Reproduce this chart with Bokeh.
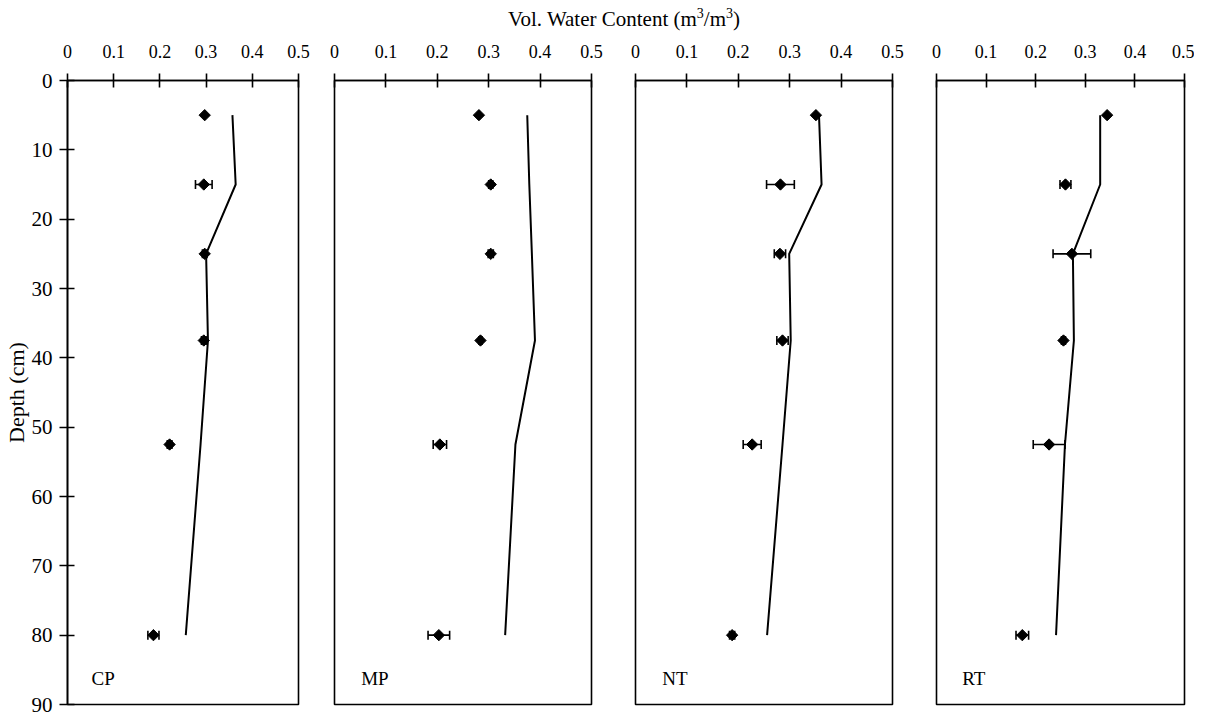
from bokeh.plotting import figure
from bokeh.layouts import row, column
from bokeh.models import (Range1d, FixedTicker, CustomJSTickFormatter, Whisker,
                          TeeHead, ColumnDataSource, Label, Div)
from bokeh.embed import file_html
from bokeh.resources import INLINE
import numpy as np

# ---------------- data ----------------
depth = [5, 15, 25, 37.5, 52.5, 80]
x_ticks = [0, 0.1, 0.2, 0.3, 0.4, 0.5]
y_ticks = [0, 10, 20, 30, 40, 50, 60, 70, 80, 90]
panel_names = ["CP", "MP", "NT", "RT"]

cp_obs = [0.297, 0.295, 0.297, 0.295, 0.221, 0.186]
cp_err = [0.0, 0.018, 0.005, 0.005, 0.005, 0.012]
cp_model = [0.357, 0.364, 0.300, 0.304, 0.288, 0.256]

mp_obs = [0.281, 0.304, 0.304, 0.284, 0.205, 0.203]
mp_err = [0.0, 0.004, 0.005, 0.003, 0.013, 0.021]
mp_model = [0.375, 0.379, 0.384, 0.390, 0.352, 0.332]

nt_obs = [0.351, 0.282, 0.281, 0.286, 0.227, 0.188]
nt_err = [0.0, 0.027, 0.011, 0.011, 0.0175, 0.005]
nt_model = [0.357, 0.362, 0.299, 0.302, 0.286, 0.256]

rt_obs = [0.344, 0.260, 0.273, 0.256, 0.227, 0.173]
rt_err = [0.0, 0.011, 0.038, 0.004, 0.032, 0.0127]
rt_model = [0.330, 0.330, 0.275, 0.277, 0.259, 0.241]

# ---------------- layout ----------------
FONT = "Liberation Serif"
FRAME_H = 624
TOP = 46
BOTTOM = 12
frame_widths = [231, 257, 257, 248]
borders_left = [65, 18, 26, 26]
borders_right = [18, 18, 18, 10]


def make_panel(i, obs, err, model):
    show_y = (i == 0)
    p = figure(frame_width=frame_widths[i], frame_height=FRAME_H,
               x_range=Range1d(0, 0.5), y_range=Range1d(90, 0),
               x_axis_location="above",
               y_axis_location="left" if show_y else None,
               toolbar_location=None, output_backend="svg",
               min_border_left=borders_left[i], min_border_right=borders_right[i],
               min_border_top=TOP, min_border_bottom=BOTTOM)
    p.grid.visible = False
    p.outline_line_color = "black"
    p.outline_line_width = 1.6
    p.outline_line_alpha = 1.0

    xa = p.xaxis[0]
    xa.ticker = FixedTicker(ticks=x_ticks)
    xa.formatter = CustomJSTickFormatter(code="return tick === 0 ? '0' : tick.toFixed(1);")
    xa.major_tick_in = 7
    xa.major_tick_out = 7
    xa.minor_tick_in = 0
    xa.minor_tick_out = 0
    xa.major_tick_line_width = 1.6
    xa.axis_line_width = 1.6
    xa.major_label_text_font = FONT
    xa.major_label_text_font_size = "18px"
    xa.major_label_text_color = "black"
    xa.major_label_standoff = 16

    if show_y:
        ya = p.yaxis[0]
        ya.ticker = FixedTicker(ticks=y_ticks)
        ya.major_tick_in = 7
        ya.major_tick_out = 8
        ya.minor_tick_in = 0
        ya.minor_tick_out = 0
        ya.major_tick_line_width = 1.6
        ya.axis_line_width = 1.6
        ya.major_label_text_font = FONT
        ya.major_label_text_font_size = "21px"
        ya.major_label_text_color = "black"
        ya.major_label_standoff = 7
        ya.axis_label = "Depth (cm)"
        ya.axis_label_text_font = FONT
        ya.axis_label_text_font_size = "22px"
        ya.axis_label_text_font_style = "normal"
        ya.axis_label_text_color = "black"
        ya.axis_label_standoff = 0

    lo = [o - e for o, e in zip(obs, err)]
    hi = [o + e for o, e in zip(obs, err)]
    src = ColumnDataSource(dict(x=obs, y=depth, lo=lo, hi=hi, m=model))

    p.line("m", "y", source=src, line_color="black", line_width=2)
    w = Whisker(base="y", lower="lo", upper="hi", dimension="width", source=src,
                line_color="black", line_width=1.6,
                upper_head=TeeHead(size=9, line_width=1.6, line_color="black"),
                lower_head=TeeHead(size=9, line_width=1.6, line_color="black"))
    p.add_layout(w)
    p.scatter("x", "y", source=src, marker="square", angle=np.pi / 4, size=8,
              fill_color="black", line_color="black")

    p.add_layout(Label(x=0.052, y=86.3, text=panel_names[i], text_font=FONT,
                       text_font_size="19px", text_baseline="middle",
                       text_color="black"))
    return p


panels = [
    make_panel(0, cp_obs, cp_err, cp_model),
    make_panel(1, mp_obs, mp_err, mp_model),
    make_panel(2, nt_obs, nt_err, nt_model),
    make_panel(3, rt_obs, rt_err, rt_model),
]

title = Div(text="Vol. Water Content (m<sup style='font-size:14px;line-height:0'>3</sup>/m<sup style='font-size:14px;line-height:0'>3</sup>)",
            width=300, height=30, margin=(4, 0, 0, 508),
            styles={"font-family": "'Liberation Serif'", "font-size": "21px",
                    "line-height": "30px", "white-space": "nowrap", "color": "black",
                    "overflow": "visible"})

layout = column(title, row(*panels))

open("out.html", "w").write(file_html(layout, INLINE))
